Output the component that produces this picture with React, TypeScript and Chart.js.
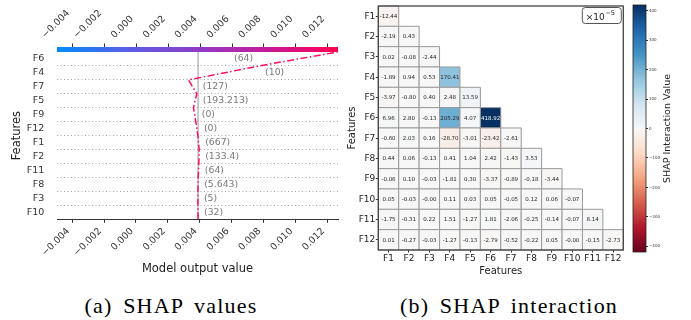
import React, { useEffect, useRef } from 'react';
import { Chart, registerables } from 'chart.js';
Chart.register(...registerables);

const SANS = '"DejaVu Sans", sans-serif';
const SERIF = '"Liberation Serif", "Times New Roman", serif';
Chart.defaults.font.family = SANS;

// ---------- (a) SHAP decision plot ----------
const decisionFeatures = ['F6', 'F4', 'F7', 'F5', 'F9', 'F12', 'F1', 'F2', 'F11', 'F8', 'F3', 'F10']; // top -> bottom
const decisionFeatureValues = ['(64)', '(10)', '(127)', '(193.213)', '(0)', '(0)', '(667)', '(133.4)', '(64)', '(5.643)', '(5)', '(32)'];
const baseValue = 0.0039;
// model output at each row boundary, from the base (bottom) to the final output (top)
const decisionPath = [0.0039, 0.00389, 0.00389, 0.00391, 0.00395, 0.00397, 0.00389, 0.00376, 0.00361, 0.00382, 0.0033, 0.00773, 0.01265];
const outputTicks = [-0.004, -0.002, 0, 0.002, 0.004, 0.006, 0.008, 0.01, 0.012];
const outputMin = -0.00495;
const outputMax = 0.01268;

// ---------- (b) SHAP interaction heatmap ----------
const interactionFeatures = ['F1', 'F2', 'F3', 'F4', 'F5', 'F6', 'F7', 'F8', 'F9', 'F10', 'F11', 'F12'];
const rowF1 = [-12.44];
const rowF2 = [-2.19, 0.43];
const rowF3 = [0.02, -0.08, -2.44];
const rowF4 = [-1.89, 0.94, 0.53, 170.41];
const rowF5 = [-3.97, -0.8, 0.4, 2.48, 13.59];
const rowF6 = [6.96, 2.8, -0.13, 205.29, 4.07, 418.92];
const rowF7 = [-0.6, 2.03, 0.16, -28.7, -3.01, -23.42, -2.61];
const rowF8 = [0.44, 0.06, -0.13, 0.41, 1.04, 2.42, -1.43, 3.53];
const rowF9 = [-0.06, 0.1, -0.03, -1.81, 0.3, -3.37, -0.89, -0.18, -3.44];
const rowF10 = [0.05, -0.03, -0.001, 0.11, 0.03, 0.05, -0.05, 0.12, 0.06, -0.07];
const rowF11 = [-1.75, -0.31, 0.22, 1.51, -1.27, 1.81, -2.06, -0.25, -0.14, -0.07, 8.14];
const rowF12 = [0.01, -0.27, -0.03, -1.27, -0.13, -2.79, -0.52, -0.22, 0.05, -0.001, -0.15, -2.73];
const interactionRows = [rowF1, rowF2, rowF3, rowF4, rowF5, rowF6, rowF7, rowF8, rowF9, rowF10, rowF11, rowF12];
const colorbarTicks = [-400, -300, -200, -100, 0, 100, 200, 300, 400];

// ---------- colours ----------
const SHAP_CMAP = ['#008bfb', '#5a5fe6', '#8f3cc5', '#c61a99', '#ff0051'];
const RDBU = ['#67001f', '#b2182b', '#d6604d', '#f4a582', '#fddbc7', '#f7f7f7', '#d1e5f0', '#92c5de', '#4393c3', '#2166ac', '#053061'];

function hexRgb(h: string): number[] {
  const n = parseInt(h.slice(1), 16);
  return [(n >> 16) & 255, (n >> 8) & 255, n & 255];
}
function rdbuRgb(t: number): number[] {
  const c = Math.max(0, Math.min(1, t)) * 10;
  const i = Math.min(9, Math.floor(c));
  const f = c - i;
  const a = hexRgb(RDBU[i]);
  const b = hexRgb(RDBU[i + 1]);
  return [0, 1, 2].map((k) => a[k] + (b[k] - a[k]) * f);
}
function rgbStr(c: number[]) {
  return `rgb(${Math.round(c[0])},${Math.round(c[1])},${Math.round(c[2])})`;
}
function luminance(c: number[]) {
  const l = c.map((v) => {
    const s = v / 255;
    return s <= 0.03928 ? s / 12.92 : Math.pow((s + 0.055) / 1.055, 2.4);
  });
  return 0.2126 * l[0] + 0.7152 * l[1] + 0.0722 * l[2];
}
const minus = (s: string) => s.replace('-', '\u2212');

const heatPoints: { x: number; y: number; v: number }[] = [];
interactionRows.forEach((row, i) => row.forEach((v, j) => heatPoints.push({ x: j, y: i, v })));
const vmax = Math.max(...heatPoints.map((p) => Math.abs(p.v)));
const norm = (v: number) => (v + vmax) / (2 * vmax);

function drawRotatedLabel(ctx: CanvasRenderingContext2D, text: string, px: number, yEdge: number, top: boolean, size: number) {
  const w = ctx.measureText(text).width;
  const h = size * 1.15;
  const k = Math.SQRT1_2;
  const x = px - (k / 2) * h;
  const y = top ? yEdge - k * w - (k / 2) * h : yEdge + (k / 2) * h;
  ctx.save();
  ctx.translate(x, y);
  ctx.rotate(-Math.PI / 4);
  ctx.textAlign = 'right';
  ctx.textBaseline = 'middle';
  ctx.fillText(text, 0, 0);
  ctx.restore();
}

const decisionPlugin = {
  id: 'decisionExtras',
  afterDraw(chart: any) {
    const { ctx, chartArea: a, scales } = chart;
    const x = scales.x;
    const y = scales.y;
    const cbH = 5;
    const g = ctx.createLinearGradient(a.left, 0, a.right, 0);
    SHAP_CMAP.forEach((c, i) => g.addColorStop(i / (SHAP_CMAP.length - 1), c));
    ctx.save();
    ctx.fillStyle = g;
    ctx.fillRect(a.left, a.top - cbH, a.right - a.left, cbH);
    ctx.strokeStyle = '#333';
    ctx.lineWidth = 1;
    outputTicks.forEach((t) => {
      const px = Math.round(x.getPixelForValue(t)) + 0.5;
      ctx.beginPath();
      ctx.moveTo(px, a.top - cbH);
      ctx.lineTo(px, a.top - cbH - 3.5);
      ctx.stroke();
    });
    const fs = 9.5;
    ctx.font = `${fs}px ${SANS}`;
    ctx.fillStyle = '#333';
    outputTicks.forEach((t) => {
      const label = minus(t.toFixed(3));
      const px = x.getPixelForValue(t);
      drawRotatedLabel(ctx, label, px, a.top - cbH - 6.5, true, fs);
      drawRotatedLabel(ctx, label, px, a.bottom + 6.5, false, fs);
    });
    ctx.font = `9.3px ${SANS}`;
    ctx.fillStyle = '#7a7a7a';
    ctx.textBaseline = 'middle';
    const margin = 6;
    for (let r = 0; r < decisionFeatures.length; r++) {
      const v0 = decisionPath[r];
      const v1 = decisionPath[r + 1];
      const text = decisionFeatureValues[decisionFeatures.length - 1 - r];
      const w = ctx.measureText(text).width;
      const yp = y.getPixelForValue(r + 0.5);
      const hiPx = x.getPixelForValue(Math.max(v0, v1)) + margin;
      if (hiPx + w <= a.right) {
        ctx.textAlign = 'left';
        ctx.fillText(text, hiPx, yp);
      } else {
        ctx.textAlign = 'right';
        ctx.fillText(text, x.getPixelForValue(Math.min(v0, v1)) - margin, yp);
      }
    }
    ctx.restore();
  },
};

const heatPlugin = {
  id: 'heatExtras',
  afterDatasetsDraw(chart: any) {
    const { ctx } = chart;
    const meta = chart.getDatasetMeta(0);
    ctx.save();
    ctx.font = `5.5px ${SANS}`;
    ctx.textAlign = 'center';
    ctx.textBaseline = 'middle';
    meta.data.forEach((el: any, k: number) => {
      const p = heatPoints[k];
      const c = rdbuRgb(norm(p.v));
      ctx.fillStyle = luminance(c) > 0.25 ? '#262626' : '#ffffff';
      ctx.fillText(p.v.toFixed(2), el.x, el.y + 0.3);
    });
    ctx.restore();
  },
  afterDraw(chart: any) {
    const { ctx, chartArea: a } = chart;
    ctx.save();
    ctx.strokeStyle = '#444';
    ctx.lineWidth = 1.3;
    ctx.strokeRect(a.left, a.top, a.right - a.left, a.bottom - a.top);
    const bw = 39;
    const bh = 16;
    const bx = a.right - 2 - bw;
    const by = a.top + 1.5;
    ctx.beginPath();
    ctx.roundRect(bx, by, bw, bh, 3);
    ctx.fillStyle = '#fff';
    ctx.fill();
    ctx.strokeStyle = '#555';
    ctx.lineWidth = 1;
    ctx.stroke();
    ctx.fillStyle = '#222';
    ctx.textBaseline = 'alphabetic';
    ctx.textAlign = 'left';
    ctx.font = `9px ${SANS}`;
    const base = '\u00d710';
    ctx.fillText(base, bx + 3.5, by + 12);
    const w = ctx.measureText(base).width;
    ctx.font = `6.5px ${SANS}`;
    ctx.fillText('\u22125', bx + 3.5 + w + 0.5, by + 7.5);
    ctx.restore();
  },
};

const colorbarPlugin = {
  id: 'cbarExtras',
  beforeDatasetsDraw(chart: any) {
    const { ctx, chartArea: a, scales } = chart;
    const s = scales.y;
    const g = ctx.createLinearGradient(0, s.getPixelForValue(-vmax), 0, s.getPixelForValue(vmax));
    RDBU.forEach((c, i) => g.addColorStop(i / (RDBU.length - 1), c));
    ctx.save();
    ctx.fillStyle = g;
    ctx.fillRect(a.left, a.top, a.right - a.left, a.bottom - a.top);
    ctx.strokeStyle = '#222';
    ctx.lineWidth = 0.8;
    ctx.strokeRect(a.left, a.top, a.right - a.left, a.bottom - a.top);
    ctx.restore();
  },
  afterDraw(chart: any) {
    const { ctx, chartArea: a } = chart;
    ctx.save();
    ctx.translate(38, (a.top + a.bottom) / 2);
    ctx.rotate(-Math.PI / 2);
    ctx.font = `9.5px ${SANS}`;
    ctx.fillStyle = '#222';
    ctx.textAlign = 'center';
    ctx.textBaseline = 'middle';
    ctx.fillText('SHAP Interaction Value', 0, 0);
    ctx.restore();
  },
};

function DecisionChart() {
  const ref = useRef<HTMLCanvasElement>(null);
  useEffect(() => {
    const n = decisionFeatures.length;
    const chart = new Chart(ref.current!, {
      type: 'scatter',
      data: {
        datasets: [
          {
            data: decisionPath.map((v, i) => ({ x: v, y: i })),
            showLine: true,
            borderColor: '#ff0d5e',
            borderWidth: 1.5,
            borderDash: [7, 2.5, 1.5, 2.5],
            pointRadius: 0,
            tension: 0,
          } as any,
          {
            data: [
              { x: baseValue, y: 0 },
              { x: baseValue, y: n },
            ],
            showLine: true,
            borderColor: '#9a9a9a',
            borderWidth: 1,
            pointRadius: 0,
          },
        ],
      },
      options: {
        animation: false,
        responsive: false,
        layout: { padding: { top: 52, right: 7, left: 0, bottom: 0 } },
        plugins: { legend: { display: false }, tooltip: { enabled: false } },
        scales: {
          x: {
            type: 'linear',
            position: 'bottom',
            min: outputMin,
            max: outputMax,
            afterBuildTicks: (s: any) => {
              s.ticks = outputTicks.map((v) => ({ value: v }));
            },
            afterFit: (s: any) => {
              s.height = 70.7;
            },
            ticks: { display: false },
            grid: { display: true, drawOnChartArea: false, drawTicks: true, tickLength: 3.5, color: '#333' },
            border: { display: true, color: '#333', width: 1 },
            title: {
              display: true,
              text: 'Model output value',
              color: '#222',
              font: { size: 11.5, family: SANS },
              padding: { top: 0, bottom: 14 },
            },
          },
          y: {
            type: 'linear',
            position: 'left',
            min: 0,
            max: n,
            afterBuildTicks: (s: any) => {
              s.ticks = decisionFeatures.map((_, i) => ({ value: i + 0.5 }));
            },
            afterFit: (s: any) => {
              s.width = 57;
            },
            ticks: {
              color: '#333',
              font: { size: 9.5, family: SANS },
              padding: 4.7,
              callback: (v: any) => decisionFeatures[n - 1 - Math.floor(Number(v))],
            },
            grid: { display: false },
            border: { display: false },
            title: {
              display: true,
              text: 'Features',
              color: '#222',
              font: { size: 11.5, family: SANS },
              padding: { top: 10, bottom: 0 },
            },
          },
          yGrid: {
            type: 'linear',
            position: 'left',
            min: 0,
            max: n,
            afterBuildTicks: (s: any) => {
              s.ticks = decisionFeatures.slice(1).map((_, i) => ({ value: i + 1 }));
            },
            afterFit: (s: any) => {
              s.width = 0;
            },
            ticks: { display: false },
            grid: { display: true, drawTicks: false, color: '#9a9a9a', lineWidth: 0.9 },
            border: { display: false, dash: [1, 2.5] },
          },
        },
      } as any,
      plugins: [decisionPlugin],
    });
    return () => chart.destroy();
  }, []);
  return <canvas ref={ref} width={345} height={290} style={{ width: 345, height: 290, display: 'block' }} />;
}

function HeatmapChart() {
  const ref = useRef<HTMLCanvasElement>(null);
  useEffect(() => {
    const cellRadius = (c: any) => {
      const a = c.chart.chartArea;
      return a ? (a.right - a.left) / interactionFeatures.length / Math.SQRT2 : 5;
    };
    const axisCommon = {
      type: 'linear',
      min: -0.5,
      max: interactionFeatures.length - 0.5,
      afterBuildTicks: (s: any) => {
        s.ticks = interactionFeatures.map((_, i) => ({ value: i }));
      },
      ticks: {
        color: '#222',
        font: { size: 9, family: SANS },
        padding: 0.5,
        autoSkip: false,
        maxRotation: 0,
        minRotation: 0,
        callback: (v: any) => interactionFeatures[Math.round(Number(v))],
      },
      grid: { display: true, drawOnChartArea: false, drawTicks: true, tickLength: 2.5, color: '#333' },
      border: { display: false },
    };
    const chart = new Chart(ref.current!, {
      type: 'scatter',
      data: {
        datasets: [
          {
            data: heatPoints,
            pointStyle: 'rect',
            pointRadius: cellRadius,
            pointHoverRadius: cellRadius,
            backgroundColor: (c: any) => (c.raw ? rgbStr(rdbuRgb(norm(c.raw.v))) : '#fff'),
            borderColor: '#9a9a9a',
            borderWidth: 1,
            clip: false,
          } as any,
        ],
      },
      options: {
        animation: false,
        responsive: false,
        layout: { padding: { top: 5, right: 6.7, left: 0, bottom: 0 } },
        plugins: { legend: { display: false }, tooltip: { enabled: false } },
        scales: {
          x: {
            ...axisCommon,
            position: 'bottom',
            afterFit: (s: any) => {
              s.height = 40;
            },
            title: {
              display: true,
              text: 'Features',
              color: '#222',
              font: { size: 10, family: SANS },
              padding: { top: 0, bottom: 13 },
            },
          },
          y: {
            ...axisCommon,
            position: 'left',
            reverse: true,
            afterFit: (s: any) => {
              s.width = 33.3;
            },
            title: {
              display: true,
              text: 'Features',
              color: '#222',
              font: { size: 10, family: SANS },
              padding: { top: 1, bottom: 0 },
            },
          },
        },
      } as any,
      plugins: [heatPlugin],
    });
    return () => chart.destroy();
  }, []);
  return <canvas ref={ref} width={285} height={290} style={{ width: 285, height: 290, display: 'block' }} />;
}

function ColorbarChart() {
  const ref = useRef<HTMLCanvasElement>(null);
  useEffect(() => {
    const chart = new Chart(ref.current!, {
      type: 'scatter',
      data: { datasets: [{ data: [] }] },
      options: {
        animation: false,
        responsive: false,
        layout: { padding: { top: 5, right: 0, left: 3, bottom: 38 } },
        plugins: { legend: { display: false }, tooltip: { enabled: false } },
        scales: {
          x: { display: false, min: 0, max: 1 },
          y: {
            type: 'linear',
            position: 'right',
            min: -vmax,
            max: vmax,
            afterBuildTicks: (s: any) => {
              s.ticks = colorbarTicks.map((v) => ({ value: v }));
            },
            afterFit: (s: any) => {
              s.width = 45;
            },
            ticks: {
              color: '#333',
              font: { size: 4, family: SANS },
              padding: 1,
              callback: (v: any) => minus(String(v)),
            },
            grid: { display: true, drawOnChartArea: false, drawTicks: true, tickLength: 2, color: '#333' },
            border: { display: false },
          },
        },
      } as any,
      plugins: [colorbarPlugin],
    });
    return () => chart.destroy();
  }, []);
  return <canvas ref={ref} width={61} height={290} style={{ width: 61, height: 290, display: 'block' }} />;
}

const captionStyle: React.CSSProperties = {
  position: 'absolute',
  top: 293,
  height: 26,
  lineHeight: '26px',
  fontFamily: SERIF,
  fontSize: 22,
  color: '#000',
  textAlign: 'center',
  whiteSpace: 'nowrap',
  wordSpacing: 4,
  letterSpacing: 1.2,
};

export default function App() {
  return (
    <div style={{ position: 'absolute', left: 0, top: 0, width: 691, height: 320, background: '#fff', overflow: 'hidden' }}>
      <div style={{ position: 'absolute', left: 0, top: 0 }}>
        <DecisionChart />
      </div>
      <div style={{ position: 'absolute', left: 345, top: 0 }}>
        <HeatmapChart />
      </div>
      <div style={{ position: 'absolute', left: 630, top: 0 }}>
        <ColorbarChart />
      </div>
      <div style={{ ...captionStyle, left: 0, width: 342 }}>(a) SHAP values</div>
      <div style={{ ...captionStyle, left: 345, width: 328 }}>(b) SHAP interaction</div>
    </div>
  );
}
